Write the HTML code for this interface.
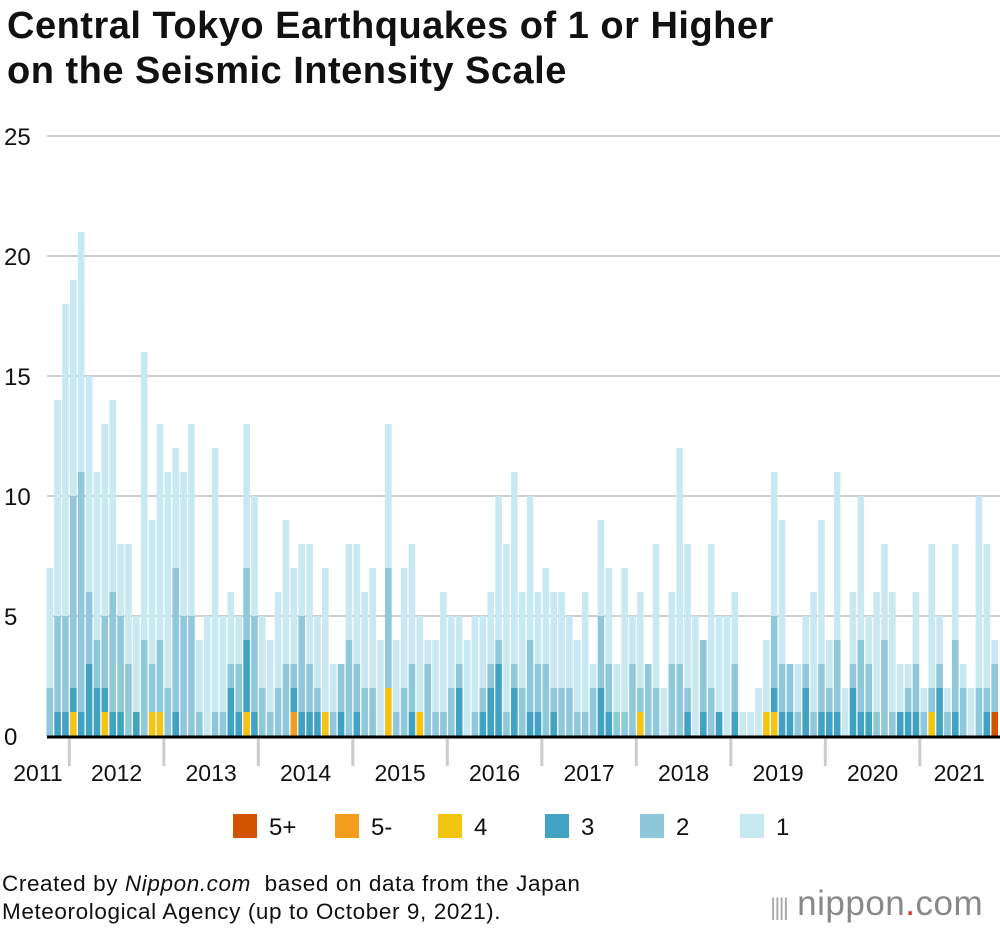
<!DOCTYPE html>
<html><head><meta charset="utf-8"><style>
body{margin:0;background:#fff;font-family:"Liberation Sans",Arial,sans-serif;}
#wrap{position:relative;width:1000px;height:928px;overflow:hidden;}
h1{position:absolute;left:7px;top:4px;margin:0;font-size:38px;line-height:45px;font-weight:bold;color:#111;letter-spacing:0.5px}
.foot{position:absolute;left:2px;top:870px;font-size:22.5px;line-height:28px;color:#111;letter-spacing:0.6px}
.logo{position:absolute;left:770px;top:884px;font-size:35px;color:#888;letter-spacing:0.5px}
</style></head><body>
<div id="wrap">
<h1>Central Tokyo Earthquakes of 1 or Higher<br>on the Seismic Intensity Scale</h1>
<svg id="chart" width="1000" height="928" style="position:absolute;left:0;top:0"></svg>
<div class="foot">Created by <i>Nippon.com</i>&nbsp; based on data from the Japan<br>Meteorological Agency (up to October 9, 2021).</div>
<div class="logo"><span style="font-size:24px;letter-spacing:-2px;color:#aaa">||||</span> nippon<span style="color:#d33">.</span>com</div>
</div>
<script>
const years=["2011","2012","2013","2014","2015","2016","2017","2018","2019","2020","2021"];
const monthsPerYear=[3,12,12,12,12,12,12,12,12,12,10];
const yTicks=[0,5,10,15,20,25];
const seriesNames=["5+","5-","4","3","2","1"];
const s5p=[0,0,0,0,0,0,0,0,0,0,0,0,0,0,0,0,0,0,0,0,0,0,0,0,0,0,0,0,0,0,0,0,0,0,0,0,0,0,0,0,0,0,0,0,0,0,0,0,0,0,0,0,0,0,0,0,0,0,0,0,0,0,0,0,0,0,0,0,0,0,0,0,0,0,0,0,0,0,0,0,0,0,0,0,0,0,0,0,0,0,0,0,0,0,0,0,0,0,0,0,0,0,0,0,0,0,0,0,0,0,0,0,0,0,0,0,0,0,0,0,1];
const s5m=[0,0,0,0,0,0,0,0,0,0,0,0,0,0,0,0,0,0,0,0,0,0,0,0,0,0,0,0,0,0,0,1,0,0,0,0,0,0,0,0,0,0,0,0,0,0,0,0,0,0,0,0,0,0,0,0,0,0,0,0,0,0,0,0,0,0,0,0,0,0,0,0,0,0,0,0,0,0,0,0,0,0,0,0,0,0,0,0,0,0,0,0,0,0,0,0,0,0,0,0,0,0,0,0,0,0,0,0,0,0,0,0,0,0,0,0,0,0,0,0,0];
const s4=[0,0,0,1,0,0,0,1,0,0,0,0,0,1,1,0,0,0,0,0,0,0,0,0,0,1,0,0,0,0,0,0,0,0,0,1,0,0,0,0,0,0,0,2,0,0,0,1,0,0,0,0,0,0,0,0,0,0,0,0,0,0,0,0,0,0,0,0,0,0,0,0,0,0,0,1,0,0,0,0,0,0,0,0,0,0,0,0,0,0,0,1,1,0,0,0,0,0,0,0,0,0,0,0,0,0,0,0,0,0,0,0,1,0,0,0,0,0,0,0,0];
const s3=[0,1,1,1,1,3,2,1,1,1,0,1,0,0,0,0,1,0,0,0,0,0,0,2,1,3,1,0,0,0,0,1,1,1,1,0,0,1,0,1,0,0,0,0,0,0,1,0,0,0,0,0,2,0,0,1,2,3,0,2,0,1,1,0,1,0,0,0,0,0,2,1,0,0,0,0,0,0,0,0,0,1,0,1,0,1,0,1,0,0,0,0,1,1,1,0,2,0,1,1,1,0,2,1,1,0,0,0,1,1,1,0,0,2,0,1,0,0,0,1,0];
const s2=[2,4,4,8,10,3,2,3,5,4,3,0,4,2,3,2,6,5,5,1,0,1,1,1,2,3,4,2,1,2,3,1,4,2,1,0,1,2,4,2,2,2,0,5,1,2,2,0,3,1,1,2,1,0,1,1,1,1,1,1,2,3,2,3,1,2,2,1,1,2,3,2,1,1,3,1,3,2,0,3,3,1,0,3,2,0,0,2,0,0,0,0,3,2,2,1,1,1,2,1,3,0,1,3,2,1,4,1,0,1,2,1,1,1,1,3,2,0,2,1,2];
const s1=[5,9,13,9,10,9,7,8,8,3,5,4,12,6,9,9,5,6,8,3,5,11,4,3,2,6,5,3,3,4,6,4,3,5,3,6,2,0,4,5,4,5,4,6,3,5,5,4,1,3,5,3,2,4,4,3,3,6,7,8,4,6,3,4,4,4,3,3,5,1,4,4,2,6,2,4,0,6,2,3,9,6,5,0,6,4,5,3,1,1,2,3,6,6,0,2,2,5,6,2,7,2,3,6,2,5,4,5,2,1,3,1,6,2,1,4,1,2,8,6,1];
const colors=["#d35400","#f39c1d","#f2c512","#41a2c4","#8ec8da","#c8e8f2"];
const series=[s5p,s5m,s4,s3,s2,s1];
const NS="http://www.w3.org/2000/svg";
const svg=document.getElementById('chart');
const x0=46.4, pitch=7.875, bw=6.6, base=736, pxu=24;
const X=i=>x0+i*pitch;
const Y=v=>base-v*pxu;
function mk(t,a){const e=document.createElementNS(NS,t);for(const k in a)e.setAttribute(k,a[k]);svg.appendChild(e);return e;}
yTicks.forEach(t=>{
  if(t>0){const g=mk('line',{x1:47,x2:1000,y1:Y(t),y2:Y(t),stroke:'#cfcfcf','stroke-width':2});
  
  }
  const tx=mk('text',{x:4,y:Y(t)+9,'font-size':24,fill:'#111'});
  tx.textContent=t;
  
  
});
const n=s1.length;
for(let i=0;i<n;i++){
  let acc=0;
  for(let k=0;k<series.length;k++){
    const v=series[k][i]; if(!v) continue;
    const r=mk('rect',{x:X(i),y:Y(acc+v),width:bw,height:v*pxu,fill:colors[k]});
    
    
    acc+=v;
  }
}
const bl=mk('line',{x1:47,x2:1000,y1:base+1,y2:base+1,stroke:'#000','stroke-width':3});


let idx=0;
years.forEach((y,j)=>{
  const start=idx, end=idx+monthsPerYear[j];
  if(j>0){const d=mk('line',{x1:X(start)-0.7,x2:X(start)-0.7,y1:739,y2:766,stroke:'#cccccc','stroke-width':3});
    
    }
  let cx=(X(start)+X(end))/2-0.7;
  if(j===0) cx=38;
  const t=mk('text',{x:cx,y:781,'font-size':23,'text-anchor':'middle',fill:'#111'});
  t.textContent=y;
  
  
  idx=end;
});
const legX=[233,335,438,545,640,740];
seriesNames.forEach((nm,k)=>{
  const r=mk('rect',{x:legX[k],y:814,width:24,height:24,fill:colors[k]});
  
  
  const t=mk('text',{x:legX[k]+36,y:835,'font-size':24,fill:'#111'});
  t.textContent=nm;
  
  
});
</script>
</body></html>
